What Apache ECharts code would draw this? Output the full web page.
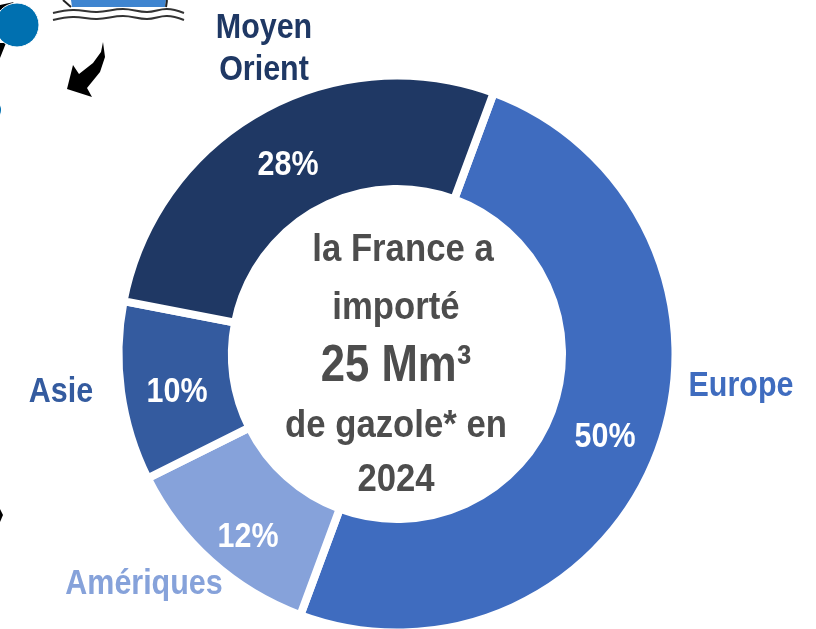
<!DOCTYPE html>
<html>
<head>
<meta charset="utf-8">
<style>
  html, body { margin: 0; padding: 0; background: #fff; }
  #main { width: 816px; height: 629px; }
</style>
<script src="https://cdn.jsdelivr.net/npm/echarts@6/dist/echarts.min.js"></script>
</head>
<body>
<div id="main"></div>
<script>
var regions = ['Europe', 'Amériques', 'Asie', 'Moyen', 'Orient'];
var regionOf = [0, 1, 2, 3, 3];
var shares = [50, 12, 10.4, 27.6];
var sliceNames = ['Europe', 'Amériques', 'Asie', 'Moyen Orient'];
var colors = ['#3F6CBF', '#86A2DA', '#345B9F', '#1F3864'];
var centerLines = ['la France a', 'importé', '25 Mm³', 'de gazole* en', '2024'];

var font = '"Liberation Sans", sans-serif';
var cx = 397, cy = 354;
var namePos = [[741, 386], [144, 584], [61, 392], [264, 28], [264, 70]];
var pctPos = [[605, 437], [248, 537], [177, 392], [288, 165]];
var lineY = [250, 308, 367, 426, 480];
var lineX = [403, 396, 396, 396, 396];

var myChart = echarts.init(document.querySelector('#main'));

// narrow bold text, there is no Arial Narrow here so the text is squeezed
function narrowText(t, x, y, size, color, sx) {
    return {
        type: 'text',
        x: x,
        y: y,
        scaleX: sx,
        z: 10,
        style: {
            text: t,
            font: 'bold ' + size + 'px ' + font,
            fill: color,
            textAlign: 'center',
            textVerticalAlign: 'middle'
        }
    };
}

var data = sliceNames.map(function (r, i) {
    return { name: r, value: shares[i], itemStyle: { color: colors[i] } };
});

var graphics = centerLines.map(function (t, i) {
    return narrowText(t, lineX[i], lineY[i], i == 2 ? 52 : 39, '#4D4D4D', i == 2 ? 0.84 : 0.89);
});
regions.forEach(function (t, i) {
    graphics.push(narrowText(t, namePos[i][0], namePos[i][1], 35, colors[regionOf[i]], 0.87));
});
shares.forEach(function (v, i) {
    graphics.push(narrowText(Math.round(v) + '%', pctPos[i][0], pctPos[i][1], 35, '#fff', 0.87));
});

// bits of the clipped picture around the chart
graphics.push(
    { type: 'polygon', shape: { points: [[0, 5], [14, 2], [4, 10], [0, 14]] }, style: { fill: '#000' } },
    { type: 'polygon', shape: { points: [[0, 43], [6, 43], [0, 58]] }, style: { fill: '#000' } },
    { type: 'circle', shape: { cx: 17, cy: 25, r: 22 }, style: { fill: '#0070B0', stroke: '#fff', lineWidth: 1 }, z: 3 },
    { type: 'circle', shape: { cx: -9, cy: 110, r: 10 }, style: { fill: '#0070B0' } },
    { type: 'polygon', shape: { points: [[0, 509], [3, 515], [0, 522]] }, style: { fill: '#000' } },
    { type: 'polygon', shape: { points: [[71, 0], [166, 0], [165, 7], [72, 7]] }, style: { fill: '#3F85D0' } },
    { type: 'polyline', shape: { points: [[63, 0], [71, 7]] }, style: { stroke: '#222', lineWidth: 2, fill: 'none' } },
    { type: 'polyline', shape: { points: [[167, 0], [166, 7]] }, style: { stroke: '#222', lineWidth: 2, fill: 'none' } },
    {
        type: 'polyline',
        shape: { smooth: 0.4, points: [[53, 13], [73, 10], [97, 12], [123, 9], [147, 12], [167, 9], [184, 13]] },
        style: { stroke: '#333', lineWidth: 2, fill: 'none' }
    },
    {
        type: 'polyline',
        shape: { smooth: 0.4, points: [[53, 20], [73, 17], [97, 19], [123, 16], [147, 19], [167, 16], [184, 20]] },
        style: { stroke: '#333', lineWidth: 2, fill: 'none' }
    },
    {
        type: 'polygon',
        shape: { points: [[103, 42], [105, 57], [100, 72], [87, 88], [92, 97], [67, 89], [73, 65], [79, 74], [93, 63], [101, 52]] },
        style: { fill: '#000' }
    }
);

var option = {
    animation: false,
    backgroundColor: '#fff',
    graphic: graphics,
    series: [{
        type: 'pie',
        center: [cx, cy],
        radius: [165, 278.5],
        startAngle: 69.7,
        silent: true,
        itemStyle: { borderColor: '#fff', borderWidth: 8 },
        label: { show: false },
        labelLine: { show: false },
        data: data
    }]
};
myChart.setOption(option);
</script>
</body>
</html>
